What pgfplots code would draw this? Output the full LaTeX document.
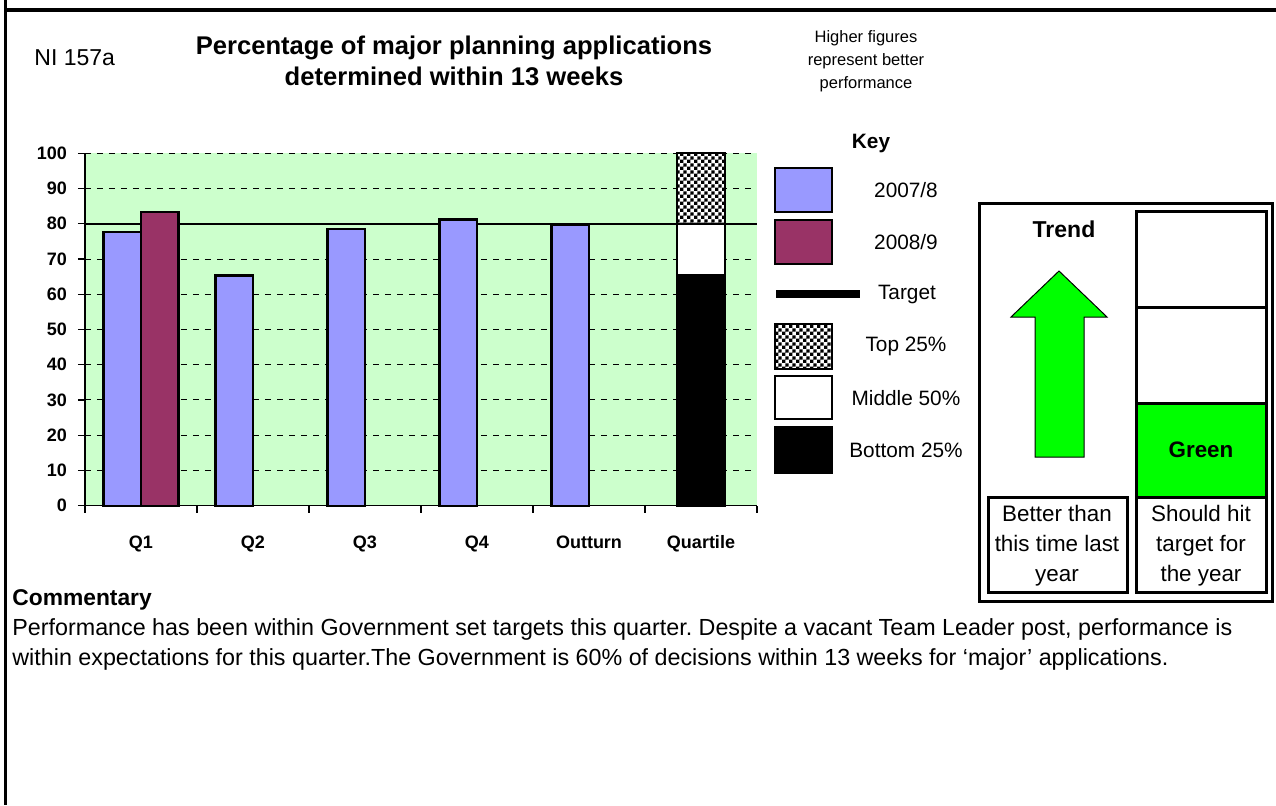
\documentclass[border=0pt]{standalone}
\usepackage{fontspec}
\setmainfont{Liberation Sans}
\usepackage{pgfplots}
\pgfplotsset{compat=1.18}
\usetikzlibrary{patterns}
\definecolor{cA}{HTML}{9999FF}
\definecolor{cB}{HTML}{993366}
\definecolor{bgG}{HTML}{CCFFCC}
\definecolor{gG}{HTML}{00FF00}
\pgfdeclarepatternformonly{finecheck}{\pgfpointorigin}{\pgfqpoint{3.4pt}{3.4pt}}{\pgfqpoint{3.4pt}{3.4pt}}{%
 \pgfpathrectangle{\pgfpointorigin}{\pgfqpoint{1.7pt}{1.7pt}}%
 \pgfpathrectangle{\pgfqpoint{1.7pt}{1.7pt}}{\pgfqpoint{1.7pt}{1.7pt}}%
 \pgfusepath{fill}}
\newcommand\fs[2]{\fontsize{#1}{#2}\selectfont}
\frenchspacing

\begin{document}
\begin{tikzpicture}[x=0.5pt,y=-0.5pt]
\path[use as bounding box] (0,0) rectangle (1276,805);
\fill[white] (0,0) rectangle (1276,805);
\begin{axis}[at={(42.5pt,-252.85pt)}, anchor=south west, scale only axis,
  width=336pt, height=176.2pt,
  xmin=-0.5, xmax=5.5, ymin=0, ymax=100,
  axis lines*=left, axis line style={black, line width=0.6pt},
  axis background/.style={fill=bgG},
  ytick={0,10,...,100}, ymajorgrids,
  grid style={black, line width=0.5pt, dash pattern=on 3pt off 3pt},
  xtick={0,1,2,3,4,5},
  xticklabels={Q1,Q2,Q3,Q4,Outturn,Quartile},
  minor xtick={-0.5,0.5,1.5,2.5,3.5,4.5,5.5},
  major x tick style={draw=none},
  minor x tick style={black, line width=0.6pt},
  y tick style={black, line width=0.6pt},
  tick align=outside, major tick length=3.5pt, minor tick length=3.5pt,
  ticklabel style={font=\fs{9}{10}\bfseries},
  xticklabel style={yshift=-8pt},
  yticklabel style={xshift=-2pt},
  /pgf/number format/assume math mode=true,
  clip=false]
\addplot[black, line width=0.9pt] coordinates {(-0.5,80) (5.5,80)};
% 2007/8
\addplot[ybar, bar width=0.335, bar shift=-0.1675, fill=cA, draw=black, line width=1.2pt]
  coordinates {(0,77.7) (1,65.3) (2,78.5) (3,81.2) (4,79.7)};
% 2008/9
\addplot[ybar, bar width=0.335, bar shift=0.1675, fill=cB, draw=black, line width=1.2pt]
  coordinates {(0,83.3)};
% Quartile: top 25% (80-100), middle 50% (65.5-80), bottom 25% (0-65.5)
\addplot[ybar, bar width=0.42, bar shift=0, fill=white, draw=black, line width=1pt,
  postaction={pattern=finecheck}]
  coordinates {(5,100)};
\addplot[ybar, bar width=0.42, bar shift=0, fill=white, draw=black, line width=1pt]
  coordinates {(5,80)};
\addplot[ybar, bar width=0.42, bar shift=0, fill=black, draw=black, line width=1pt]
  coordinates {(5,65.5)};
\end{axis}

% page frame lines
\draw[line width=1.5pt] (5.5,0) -- (5.5,805);
\draw[line width=2pt] (4.5,10) -- (1276,10);

% headings
\node[anchor=west, inner sep=0pt, font=\fs{11.5}{13}] at (34,58) {NI 157a};
\node[align=center, font=\fs{12.8}{15.5}\bfseries] at (454,61) {Percentage of major planning applications\\determined within 13 weeks};
\node[align=center, font=\fs{8.25}{11.5}] at (866,61) {Higher figures\\represent better\\performance};

% key
\node[font=\fs{10.4}{12}\bfseries] at (871,143) {Key};
\draw[line width=1.3pt, fill=cA] (775,168) rectangle (832,212);
\node[font=\fs{10.4}{12}] at (906,190) {2007/8};
\draw[line width=1.3pt, fill=cB] (775,220) rectangle (832,264);
\node[font=\fs{10.4}{12}] at (906,242) {2008/9};
\draw[line width=4pt] (776,294) -- (860,294);
\node[anchor=west, font=\fs{10.4}{12}] at (871,294) {Target};
\draw[line width=1.3pt, fill=white, postaction={pattern=finecheck}] (775,324) rectangle (832,369);
\node[font=\fs{10.4}{12}] at (906,346) {Top 25\%};
\draw[line width=1.3pt, fill=white] (775,376) rectangle (832,419);
\node[font=\fs{10.4}{12}] at (906,398) {Middle 50\%};
\draw[line width=1.3pt, fill=black] (775,427) rectangle (832,473);
\node[font=\fs{10.4}{12}] at (906,450) {Bottom 25\%};

% right panel
\draw[line width=1.5pt] (979,203) rectangle (1272,601);
\fill[gG] (1136,403) rectangle (1266,497);
\draw[line width=1.5pt] (1136,211) rectangle (1266,592);
\draw[line width=1.5pt] (1136,307) -- (1266,307);
\draw[line width=1.5pt] (1136,403) -- (1266,403);
\draw[line width=1.5pt] (1136,497) -- (1266,497);
\draw[line width=1.5pt] (988,497) rectangle (1127,592);
\node[font=\fs{11.5}{13}\bfseries] at (1064,229) {Trend};
\draw[fill=gG, line width=0.5pt] (1059,271) -- (1107,317) -- (1084,317) -- (1084,457) -- (1035,457) -- (1035,317) -- (1011,317) -- cycle;
\node[font=\fs{11.2}{13}\bfseries] at (1201,450) {Green};
\node[align=center, font=\fs{11.2}{15}] at (1057,546) {Better than\\this time last\\year};
\node[align=center, font=\fs{11.2}{15}] at (1201,546) {Should hit\\target for\\the year};

% commentary
\node[anchor=base west, inner sep=0pt, font=\fs{11.4}{13}\bfseries] at (12,605) {Commentary};
\node[anchor=base west, inner sep=0pt, font=\fs{11.65}{13}] at (12,635) {Performance has been within Government set targets this quarter. Despite a vacant Team Leader post, performance is};
\node[anchor=base west, inner sep=0pt, font=\fs{11.65}{13}] at (12,665) {within expectations for this quarter.The Government is 60\% of decisions within 13 weeks for `major' applications.};
\end{tikzpicture}
\end{document}
